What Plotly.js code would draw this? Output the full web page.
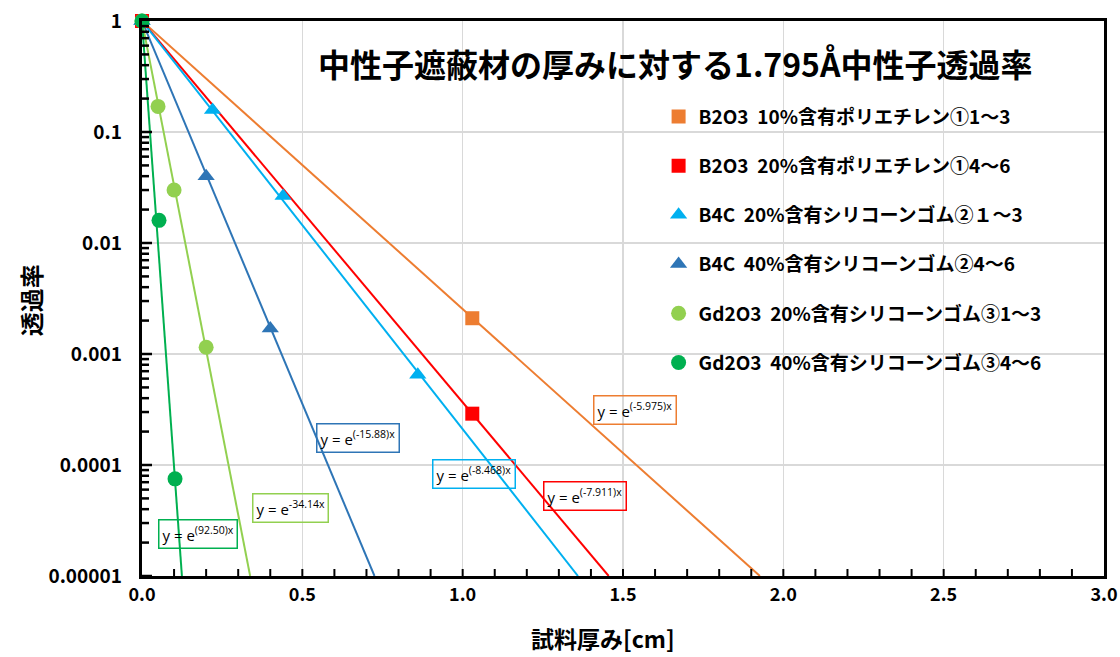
<!DOCTYPE html>
<html>
<head>
<meta charset="utf-8">
<script src="https://cdn.plot.ly/plotly-3.0.1.min.js"></script>
<style>html,body{margin:0;padding:0;background:#fff;}#chart{width:1120px;height:657px;}</style>
</head>
<body>
<div id="chart"></div>
<script>
// ---- data ----
const seriesNames = [
  "B2O3\u00a0 10%含有ポリエチレン①1～3",
  "B2O3\u00a0 20%含有ポリエチレン①4～6",
  "B4C\u00a0 20%含有シリコーンゴム②１～3",
  "B4C\u00a0 40%含有シリコーンゴム②4～6",
  "Gd2O3\u00a0 20%含有シリコーンゴム③1～3",
  "Gd2O3\u00a0 40%含有シリコーンゴム③4～6"
];
const thickB2O3_10 = [0, 1.03];
const transB2O3_10 = [1, 0.0021];
const thickB2O3_20 = [0, 1.03];
const transB2O3_20 = [1, 0.00029];
const thickB4C_20 = [0, 0.22, 0.44, 0.86];
const transB4C_20 = [1, 0.158, 0.0265, 0.00065];
const thickB4C_40 = [0, 0.2, 0.4];
const transB4C_40 = [1, 0.040, 0.0017];
const thickGd_20 = [0, 0.05, 0.1, 0.2];
const transGd_20 = [1, 0.17, 0.030, 0.00115];
const thickGd_40 = [0, 0.053, 0.103];
const transGd_40 = [1, 0.016, 0.000075];
// exponential trendline coefficients (y = e^(k x)) and their labels
const fitK = [-5.975, -7.911, -8.468, -15.88, -34.14, -92.50];
const fitLabels = [
  "y = e<sup>(-5.975)x</sup>",
  "y = e<sup>(-7.911)x</sup>",
  "y = e<sup>(-8.468)x</sup>",
  "y = e<sup>(-15.88)x</sup>",
  "y = e<sup>-34.14x</sup>",
  "y = e<sup>(92.50)x</sup>"
];
const yTickVals = [1, 0.1, 0.01, 0.001, 0.0001, 0.00001];
const yTickText = ["1", "0.1", "0.01", "0.001", "0.0001", "0.00001"];
const titleText = "中性子遮蔽材の厚みに対する1.795Å中性子透過率";
const xTitle = "試料厚み[cm]";
const yTitle = "透過率";

// ---- styling ----
const colors = ["#ED7D31", "#FF0000", "#00B0F0", "#2E75B6", "#92D050", "#00B050"];
const symbols = ["square", "square", "triangle-up", "triangle-up", "circle", "circle"];
const xs = [thickB2O3_10, thickB2O3_20, thickB4C_20, thickB4C_40, thickGd_20, thickGd_40];
const ys = [transB2O3_10, transB2O3_20, transB4C_20, transB4C_40, transGd_20, transGd_40];
const yMin = 0.00001;
const yLogRange = [-5, 0];
const xRange = [0, 3];
const jp = "'Noto Sans CJK JP', 'Noto Sans', sans-serif";
const labelPad = "\u2002\u2009"; // gap between y tick labels and the axis

const W = 1120, H = 657;
const M = {l: 142, r: 16, t: 21, b: 81};
const plotW = W - M.l - M.r, plotH = H - M.t - M.b;

const traces = [];
// trendlines (straight lines on log axis from x=0 down to the axis floor)
fitK.forEach((k, i) => {
  const xEnd = Math.log(yMin) / k;
  traces.push({
    x: [0, xEnd], y: [1, yMin], mode: "lines", type: "scatter",
    line: {color: colors[i], width: 2}, showlegend: false, hoverinfo: "skip"
  });
});
// measured points
xs.forEach((xv, i) => {
  traces.push({
    x: xv, y: ys[i], mode: "markers", type: "scatter", name: seriesNames[i],
    legendgroup: "g" + i, cliponaxis: false,
    marker: {color: colors[i], symbol: symbols[i], size: symbols[i] === "square" ? 14 : 15, line: {width: 0}}
  });
});

// inside tick marks (axis decoration) drawn as paper-space shapes
const shapes = [];
for (let e = yLogRange[0]; e < yLogRange[1]; e++) {
  for (let d = 1; d <= 9; d++) {
    const p = (e + Math.log10(d) - yLogRange[0]) / (yLogRange[1] - yLogRange[0]);
    const len = (d === 1 ? 10 : 7) / plotW;
    shapes.push({
      type: "line", layer: "above", xref: "paper", yref: "paper",
      x0: 0, x1: len, y0: p, y1: p,
      line: {color: "#000", width: 2.5}
    });
  }
}
for (let t = 1; t < 30; t++) {
  const p = (t / 10 - xRange[0]) / (xRange[1] - xRange[0]);
  shapes.push({
    type: "line", layer: "above", xref: "paper", yref: "paper",
    x0: p, x1: p, y0: 0, y1: 7 / plotH,
    line: {color: "#000", width: 2}
  });
}

// equation label positions (paper coords)
const eqPos = [[0.5125, 0.299], [0.4605, 0.144], [0.345, 0.184], [0.2245, 0.249], [0.154, 0.1225], [0.058, 0.0757]];
const annotations = fitLabels.map((t, i) => ({
  text: t, xref: "paper", yref: "paper", x: eqPos[i][0], y: eqPos[i][1],
  showarrow: false, font: {family: "'Open Sans', 'Liberation Sans', sans-serif", size: 15, color: "#000"},
  bordercolor: colors[i], borderwidth: 1.5, borderpad: 3, xanchor: "center", yanchor: "middle"
}));
annotations.push({
  text: titleText, xref: "paper", yref: "paper", x: 0.554, y: 0.924, showarrow: false,
  font: {family: jp, size: 32, color: "#000", weight: 700}, xanchor: "center", yanchor: "middle"
});
annotations.push({
  text: xTitle, xref: "paper", yref: "paper", x: 0.479, y: -0.112, showarrow: false,
  font: {family: jp, size: 23, color: "#000", weight: 700}, xanchor: "center", yanchor: "middle"
});
annotations.push({
  text: yTitle, xref: "paper", yref: "paper", x: -0.1164, y: 0.497, showarrow: false, textangle: -90,
  font: {family: jp, size: 24, color: "#000", weight: 700}, xanchor: "center", yanchor: "middle"
});

const layout = {
  width: W, height: H,
  margin: M,
  paper_bgcolor: "#fff", plot_bgcolor: "#fff",
  showlegend: true,
  legend: {
    x: 0.537, y: 0.862, xanchor: "left", yanchor: "top",
    bgcolor: "rgba(0,0,0,0)", borderwidth: 0,
    font: {family: jp, size: 19, color: "#000", weight: 700},
    tracegroupgap: 21.5, itemwidth: 30
  },
  xaxis: {
    type: "linear", range: xRange,
    tickmode: "linear", tick0: 0, dtick: 0.5, tickformat: ".1f",
    ticks: "",
    showgrid: true, gridcolor: "#D9D9D9", gridwidth: 1.5,
    showline: true, linecolor: "#000", linewidth: 3, mirror: true,
    zeroline: false,
    tickfont: {family: jp, size: 18, color: "#000", weight: 700}
  },
  yaxis: {
    type: "log", range: yLogRange,
    tickmode: "array", tickvals: yTickVals, ticktext: yTickText.map(t => t + labelPad),
    ticks: "",
    showgrid: true, gridcolor: "#D9D9D9", gridwidth: 1.5,
    showline: true, linecolor: "#000", linewidth: 3, mirror: true,
    zeroline: false,
    tickfont: {family: jp, size: 19, color: "#000", weight: 700}
  },
  shapes: shapes,
  annotations: annotations
};

Plotly.newPlot("chart", traces, layout, {staticPlot: true, displayModeBar: false});
</script>
</body>
</html>
